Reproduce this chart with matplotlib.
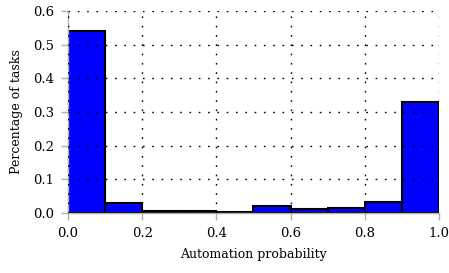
import matplotlib
matplotlib.use("Agg")
import matplotlib.pyplot as plt
import numpy as np

# histogram of automation probability (fraction of tasks per bin)
bin_edges = [0.0, 0.1, 0.2, 0.3, 0.4, 0.5, 0.6, 0.7, 0.8, 0.9, 1.0]
fractions = [0.54, 0.031, 0.005, 0.007, 0.004, 0.021, 0.012, 0.015, 0.033, 0.33]

x_ticks = [0.0, 0.2, 0.4, 0.6, 0.8, 1.0]
y_ticks = [0.0, 0.1, 0.2, 0.3, 0.4, 0.5, 0.6]

plt.rcParams["font.family"] = ["DejaVu Serif"]

fig = plt.figure(figsize=(4.49, 2.73), dpi=100)
ax = fig.add_axes([0.1514, 0.2198, 0.8263, 0.7399])

edges = np.array(bin_edges)
ax.bar(
    edges[:-1],
    fractions,
    width=np.diff(edges),
    align="edge",
    color="#0000ff",
    edgecolor="black",
    linewidth=1.5,
    zorder=2,
)

ax.set_xlim(0.0, 1.0)
ax.set_ylim(0.0, 0.6)
ax.set_xticks(x_ticks)
ax.set_yticks(y_ticks)
ax.set_xticklabels([f"{t:.1f}" for t in x_ticks], fontsize=9.5)
ax.set_yticklabels([f"{t:.1f}" for t in y_ticks], fontsize=9.5)

ax.grid(True, linestyle=(0, (1.2, 5.5)), color="black", linewidth=1.0, zorder=3)
ax.set_axisbelow(False)

for side in ["top", "right"]:
    ax.spines[side].set_visible(False)
for side in ["left", "bottom"]:
    ax.spines[side].set_color("#b0b0b0")
    ax.spines[side].set_linewidth(1.0)

ax.tick_params(direction="out", length=5, color="#b0b0b0", width=1.0, pad=5)

ax.set_xlabel("Automation probability", fontsize=9, labelpad=6)
ax.set_ylabel("Percentage of tasks", fontsize=9, labelpad=7)

fig.savefig("out.png", dpi=100)
